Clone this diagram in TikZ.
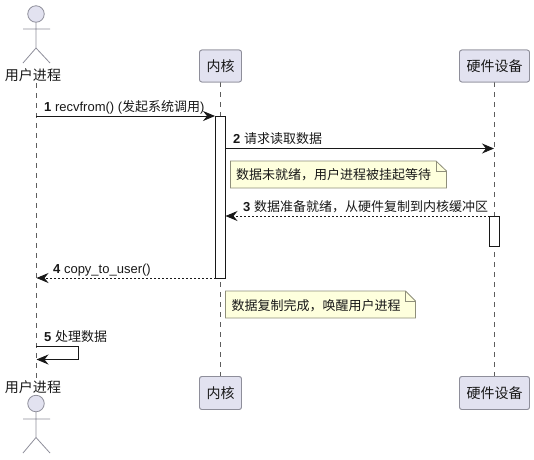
\documentclass[tikz,border=0pt]{standalone}
\usepackage{fontspec}
\setmainfont{Liberation Sans}
\newfontfamily\cjk{Noto Sans CJK SC}
\usetikzlibrary{arrows.meta,positioning}
\definecolor{partfill}{HTML}{E2E2F0}
\definecolor{partline}{HTML}{8E8E9A}
\definecolor{notefill}{HTML}{FEFFDD}
\definecolor{noteline}{HTML}{8E8E7A}
\definecolor{ink}{HTML}{181818}
\tikzset{
  x=1pt,y=-1pt,
  part/.style={draw=partline,fill=partfill,rounded corners=2.5pt,line width=.8pt,minimum height=32pt,inner sep=0pt,text=ink,font=\fontsize{14}{14}\cjk},
  lifeline/.style={draw=ink!70,line width=.6pt,dash pattern=on 5pt off 5pt},
  act/.style={draw=ink,fill=white,line width=.9pt},
  msg/.style={draw=ink,line width=.9pt,-{Stealth[length=12pt,width=10pt,inset=4pt]}},
  ret/.style={msg,dash pattern=on 2pt off 2pt},
  lbl/.style={anchor=base west,inner sep=0pt,text=ink,font=\fontsize{13}{13}\selectfont},
  notetxt/.style={anchor=base west,inner sep=0pt,text=ink,font=\fontsize{13}{13}\cjk},
  actorlbl/.style={inner sep=0pt,text=ink,font=\fontsize{14}{14}\cjk},
  head/.style={circle,draw=partline,fill=partfill,line width=.8pt,minimum size=16.5pt,inner sep=0pt},
  limb/.style={draw=partline,line width=.8pt},
  notebox/.style={draw=noteline,fill=notefill,line width=.8pt},
}
\newcommand{\num}[1]{\textbf{#1}}
\begin{document}
\begin{tikzpicture}
\useasboundingbox (0,0) rectangle (534,459);
% participant boxes
\node[part,minimum width=42pt] (kt) at (220.5,66) {内核};
\node[part,minimum width=70pt] (ht) at (494.5,66) {硬件设备};
\node[part,minimum width=42pt,minimum height=33pt] (kb) at (220.5,393) {内核};
\node[part,minimum width=70pt,minimum height=33pt] (hb) at (494.5,393) {硬件设备};
\node[actorlbl] (ut) at (33,75) {用户进程};
\node[actorlbl] (ub) at (33,387) {用户进程};
% lifelines
\coordinate (ll1) at (36,83);
\coordinate (ll2) at (36,379);
\draw[lifeline] (ll1) -- (ll2);
\draw[lifeline] (kt) -- (kb);
\draw[lifeline] (ht) -- (hb);
% redraw boxes above the lifelines
\node[part,minimum width=42pt] at (kt) {内核};
\node[part,minimum width=70pt] at (ht) {硬件设备};
\node[part,minimum width=42pt,minimum height=33pt] at (kb) {内核};
\node[part,minimum width=70pt,minimum height=33pt] at (hb) {硬件设备};
% actors
\node[head] (h1) at (36,14) {};
\coordinate (c1) at (36,48);
\draw[limb] (h1) -- (c1) (23,29) -- (50,29) (23,63) -- (c1) -- (50,63);
\node[head] (h2) at (36,403.5) {};
\coordinate (c2) at (36,437.5);
\draw[limb] (h2) -- (c2) (23,419) -- (50,419) (23,453) -- (c2) -- (50,453);
% activations
\node[act,minimum width=10pt,minimum height=162pt,inner sep=0pt] (ka) at (220.5,197) {};
\node[act,minimum width=10pt,minimum height=30pt,inner sep=0pt] (ha) at (494.5,231) {};
% coordinates
\coordinate (u1) at (36,116);
\coordinate (k1) at (215,116);
\coordinate (k2) at (225.5,148.5);
\coordinate (h2r) at (494,148.5);
\coordinate (h3) at (489.5,216);
\coordinate (k3) at (225.5,216);
\coordinate (k4) at (215.5,278);
\coordinate (u4) at (36.5,278);
\coordinate (s0) at (36,346.5);
\coordinate (s1) at (78.5,346.5);
\coordinate (s2) at (78.5,359.5);
\coordinate (s3) at (36.5,359.5);
% messages
\draw[msg] (u1) -- (k1);
\draw[msg] (k2) -- (h2r);
\draw[ret] (h3) -- (k3);
\draw[ret] (k4) -- (u4);
\draw[msg] (s0) -- (s1) -- (s2) -- (s3);
% labels
\node[lbl] (l1) at (44,111.5) {\num{1} recvfrom() ({\cjk 发起系统调用})};
\node[lbl] (l2) at (233,143.5) {\num{2} {\cjk 请求读取数据}};
\node[lbl] (l3) at (243,211.5) {\num{3} {\cjk 数据准备就绪，从硬件复制到内核缓冲区}};
\node[lbl] (l4) at (53,273.5) {\num{4} copy\_to\_user()};
\node[lbl] (l5) at (44,341.5) {\num{5} {\cjk 处理数据}};
% notes
\draw[notebox] (230.5,161) -- (436,161) -- (446.5,171) -- (446.5,188) -- (230.5,188) -- cycle;
\draw[noteline,line width=.8pt] (436,161) -- (436,171) -- (446.5,171);
\node[notetxt] (n1) at (236,179.5) {数据未就绪，用户进程被挂起等待};
\draw[notebox] (225.5,291) -- (405.5,291) -- (415.5,301) -- (415.5,318) -- (225.5,318) -- cycle;
\draw[noteline,line width=.8pt] (405.5,291) -- (405.5,301) -- (415.5,301);
\node[notetxt] (n2) at (231.5,310) {数据复制完成，唤醒用户进程};
\end{tikzpicture}
\end{document}
